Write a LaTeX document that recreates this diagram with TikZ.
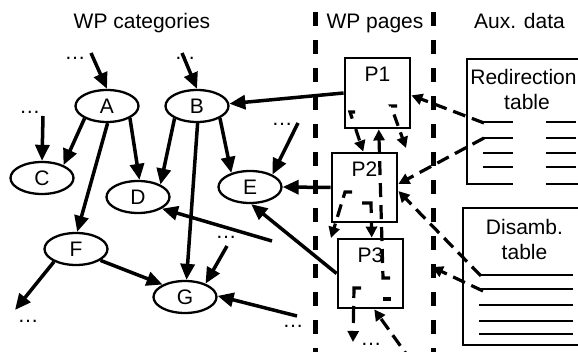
\documentclass[tikz,border=0pt]{standalone}
\usepackage{fontspec}
\setmainfont{Liberation Sans}
\usetikzlibrary{arrows.meta,shapes.geometric}
\begin{document}
\begin{tikzpicture}[x=1pt,y=-1pt,
  font=\fontsize{21}{25}\selectfont,
  catnode/.style={ellipse, draw, line width=2.3pt, minimum width=63pt, minimum height=32pt, inner sep=0pt},
  pagebox/.style={draw, line width=2.8pt, minimum width=65pt, minimum height=69pt, inner sep=0pt},
  ptitle/.style={anchor=north, inner sep=0pt, yshift=-10.5pt},
  solidarrow/.style={line width=3.5pt, -{Triangle[length=16pt,width=14pt]}},
  dlink/.style={line width=3.2pt, -{Triangle[length=11pt,width=11pt]}},
  sepline/.style={line width=5pt, dash pattern=on 14pt off 14pt},
  tabframe/.style={line width=2.8pt},
  tabrow/.style={line width=2.5pt},
  dotsnode/.style={anchor=base, inner sep=0pt},
  headtxt/.style={anchor=base, inner sep=0pt}
]
\clip (0,0) rectangle (578,352);

% column headings
\node[headtxt] (h1) at (142,29) {WP categories};
\node[headtxt] (h2) at (375,29) {WP pages};
\node[headtxt] (h3) at (519.5,29) {Aux. data};

% separators around the page column
\draw[sepline] (315,12) -- (315,360);
\draw[sepline] (433,12) -- (433,360);

% category graph
\node[catnode] (A) at (107,106) {A};
\node[catnode] (B) at (197,106) {B};
\node[catnode] (C) at (42,178) {C};
\node[catnode] (D) at (138,197) {D};
\node[catnode] (E) at (250,187) {E};
\node[catnode] (F) at (76,249) {F};
\node[catnode] (G) at (185,297) {G};

% elided neighbours
\node[dotsnode] (d1) at (75,60) {…};
\node[dotsnode] (d2) at (185,60) {…};
\node[dotsnode] (d3) at (30,114) {…};
\node[dotsnode] (d4) at (282,126) {…};
\node[dotsnode] (d5) at (226,239) {…};
\node[dotsnode] (d6) at (293,328) {…};
\node[dotsnode] (d7) at (28,323) {…};
\node[dotsnode] (d8) at (371,345) {…};

\coordinate (sA) at (91,53);
\coordinate (sB) at (182,53);
\coordinate (sC) at (43,116);
\coordinate (sE) at (298,123);
\coordinate (sG) at (227,246);
\coordinate (sG2) at (297,316);
\coordinate (sD) at (272,241);
\coordinate (eF) at (15,310);

% pages
\node[pagebox, minimum height=70pt, label={[ptitle]north:P1}] (P1) at (377.5,93) {};
\node[pagebox, label={[ptitle]north:P2}] (P2) at (364.5,187.5) {};
\node[pagebox, label={[ptitle]north:P3}] (P3) at (370.5,273.5) {};

% category edges
\draw[solidarrow] (sA) -- (A.north);
\draw[solidarrow] (sB) -- (B.north);
\draw[solidarrow] (sC) -- (C.north);
\draw[solidarrow] (sE) -- (E.29);
\draw[solidarrow] (sG) -- (G.33);
\draw[solidarrow] (sG2) -- (G.2);
\draw[solidarrow] (sD) -- (D.-26);
\draw[solidarrow] (A.-151) -- (C.31);
\draw[solidarrow] (A.-88) -- (F.86);
\draw[solidarrow] (A.-28) -- (D.85);
\draw[solidarrow] (B.-151) -- (D.29);
\draw[solidarrow] (B.-88) -- (G.85);
\draw[solidarrow] (B.-28) -- (E.143);
\draw[solidarrow] (F.-25) -- (G.151);
\draw[solidarrow] (F.-150) -- (eF);

% page-to-category edges
\draw[solidarrow] (P1.west) -- (B.4);
\draw[solidarrow] (P2.west) -- (E.east);
\draw[solidarrow] (P3.west) -- (E.-86);

% links between pages
\coordinate (l2e) at (406,148);
\coordinate (l4e) at (331,238);
\coordinate (l6e) at (353,342);
\draw[dlink, dash pattern=on 12pt off 11pt] (355,112) -- (350,112) -- (P2.92);
\draw[dlink, dash pattern=on 6pt off 9pt on 12pt off 7pt] (397,106) -- (391,106) -- (l2e);
\draw[dlink, dash pattern=on 14pt off 8pt] (390,278) -- (383,278) -- (P1.-88);
\draw[dlink, dash pattern=on 13pt off 7pt] (352,192) -- (345,192) -- (l4e);
\draw[dlink, dash pattern=on 19pt off 9pt] (362,203) -- (371,203) -- (P3.88);
\draw[dlink, dash pattern=on 17pt off 8pt] (361,288) -- (354,288) -- (l6e);
\draw[line width=3.2pt] (383,299) -- (391,299);

% redirection table
\node[headtxt] (rt1) at (523.5,85) {Redirection};
\node[headtxt] (rt2) at (527,110) {table};
\draw[tabframe] (591,59) -- (467,59) -- (467,184) -- (513,184);
\draw[tabframe] (546,184) -- (591,184);
\foreach \y in {122,138,153,167} {
  \draw[tabrow] (483,\y) -- (513,\y);
  \draw[tabrow] (546,\y) -- (576,\y);
}

% disambiguation table
\node[headtxt] (dt1) at (524.5,235) {Disamb.};
\node[headtxt] (dt2) at (524.5,260) {table};
\draw[tabframe] (463,208) rectangle (590,345);
\foreach \y in {275,289,305,321,334} {
  \draw[tabrow] (479,\y) -- (573,\y);
}

% links from the tables to pages
\coordinate (l8e) at (432,267);
\coordinate (inP3) at (412,362);
\draw[dlink, dash pattern=on 13pt off 7pt] (484,123) -- (P1.-4);
\draw[dlink, dash pattern=on 13pt off 7pt] (484,138) -- (P2.6);
\draw[dlink, dash pattern=on 13pt off 7pt] (481,276) -- (P2.-6);
\draw[dlink, dash pattern=on 13pt off 7pt] (483,291) -- (l8e);
\draw[dlink, dash pattern=on 13pt off 7pt] (inP3) -- (P3.-84);
\end{tikzpicture}
\end{document}
